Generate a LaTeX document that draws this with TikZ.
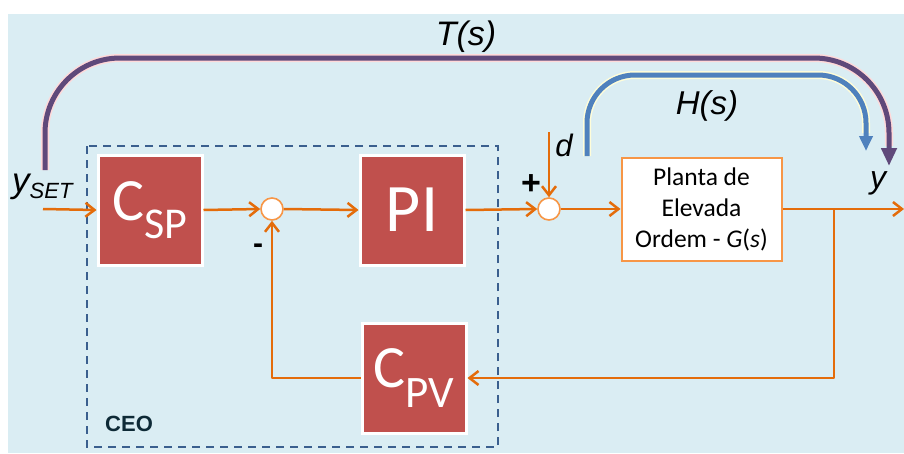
\documentclass[tikz,border=0pt]{standalone}
\usepackage{fontspec}
\setmainfont{Carlito}
\newfontfamily\arialf{Liberation Sans}
\usetikzlibrary{arrows.meta,shadows}
\definecolor{bgblue}{HTML}{DAEDF3}
\definecolor{blockred}{HTML}{C0504D}
\definecolor{lineorange}{HTML}{E46C0A}
\definecolor{plantorange}{HTML}{F79646}
\definecolor{tpurple}{HTML}{5F497A}
\definecolor{hblue}{HTML}{4F81BD}
\definecolor{dashblue}{HTML}{3A5F8E}
\definecolor{ceotext}{HTML}{0E2A36}
\tikzset{
  redblock/.style={rectangle, fill=blockred, draw=white, line width=3pt,
    minimum width=104pt, minimum height=110pt, inner sep=0pt, text=white,
    drop shadow={shadow xshift=1.5pt, shadow yshift=-1.5pt, opacity=0.35, fill=gray}},
  sumnode/.style={circle, fill=white, draw=plantorange, line width=1.6pt,
    minimum size=22pt, inner sep=0pt},
  plantbox/.style={rectangle, fill=white, draw=plantorange, line width=2pt,
    minimum width=160pt, minimum height=103pt, align=center, inner sep=2pt,
    font=\fontsize{25.5}{31}\selectfont},
  conn/.style={draw=lineorange, line width=2.5pt,
    -{Straight Barb[length=9pt,width=14pt,line width=2.5pt]}},
  plainline/.style={draw=lineorange, line width=2.5pt, line join=round},
  lbl/.style={inner sep=0pt, font=\arialf\itshape},
}
\begin{document}
\begin{tikzpicture}[x=1pt,y=-1pt]
\useasboundingbox (0,0) rectangle (904,453);
\fill[bgblue] (8,14) rectangle (904,453);
% dashed CEO frame
\draw[dashblue, line width=1.8pt, dash pattern=on 8pt off 6pt] (87,146) rectangle (498,447);
\node[inner sep=0pt, anchor=base west, font=\arialf\bfseries\fontsize{22}{22}\selectfont, text=ceotext] (ceo) at (105,431) {CEO};
% blocks
\node[redblock] (csp) at (150,210) {\fontsize{60}{60}\selectfont C\raisebox{-0.3em}{\fontsize{44}{44}\selectfont SP}};
\node[redblock] (pi) at (412,210) {\fontsize{68}{68}\selectfont PI};
\node[redblock] (cpv) at (414,378) {\fontsize{60}{60}\selectfont C\raisebox{-0.33em}{\fontsize{45}{45}\selectfont PV}};
\node[plantbox] (plant) at (701.5,209) {Planta de\\Elevada\\Ordem - \textit{G}(\textit{s})};
\node[sumnode] (sum1) at (272,209) {};
\node[sumnode] (sum2) at (549,209) {};
% free ends
\coordinate (yin) at (43,209);
\coordinate (yout) at (904,209);
\coordinate (br) at (834,209);
\coordinate (dtop) at (549,132);
% connectors
\draw[conn] (yin) -- (csp.west);
\draw[conn] (csp.east) -- (sum1.west);
\draw[conn] (sum1.east) -- (pi.west);
\draw[conn] (pi.east) -- (sum2.west);
\draw[conn] (sum2.east) -- (plant.west);
\draw[conn] (plant.east) -- (yout);
\draw[conn] (dtop) -- (sum2.north);
\draw[plainline] (br) -- (br |- cpv.east) -- ([xshift=10pt]cpv.east);
\draw[conn] ([xshift=12pt]cpv.east) -- (cpv.east);
\draw[plainline] (cpv.west) -| ([yshift=-10pt]sum1.south);
\draw[conn] ([yshift=-12pt]sum1.south) -- (sum1.south);
% signs and labels
\node[inner sep=0pt, font=\arialf\bfseries\fontsize{34}{34}\selectfont] (plus) at (531,185) {+};
\node[inner sep=0pt, font=\arialf\bfseries\fontsize{30}{30}\selectfont] (minus) at (258,249) {-};
\node[lbl, font=\arialf\itshape\fontsize{31}{31}\selectfont] (dlbl) at (564,145) {d};
\node[lbl, font=\arialf\itshape\fontsize{32}{32}\selectfont] (ylbl) at (878,183) {y};
\node[lbl, anchor=base west, font=\arialf\itshape\fontsize{35}{35}\selectfont] (yset) at (12,192) {y\raisebox{-0.18em}{\fontsize{22}{22}\selectfont SET}};
% transfer arcs
\coordinate (ts) at (45,170);
\coordinate (te) at (889,166);
\coordinate (hs) at (587,156);
\coordinate (he) at (866,151);
\draw[line width=8pt, draw=red!15!white, rounded corners=75pt] (ts) -- (45,58) -- (889,58) -- ([yshift=20pt]te);
\draw[line width=5pt, draw=tpurple, rounded corners=75pt, -{Triangle[length=18pt,width=15pt]}] (ts) -- (45,58) -- (889,58) -- (te);
\draw[line width=8pt, draw=yellow!15!white, rounded corners=48pt] (hs) -- (587,75) -- (866,75) -- ([yshift=18pt]he);
\draw[line width=5pt, draw=hblue, rounded corners=48pt, -{Triangle[length=15pt,width=13pt]}] (hs) -- (587,75) -- (866,75) -- (he);
\node[lbl, font=\arialf\itshape\fontsize{34}{34}\selectfont] (tlbl) at (466,37) {T(s)};
\node[lbl, font=\arialf\itshape\fontsize{33}{33}\selectfont] (hlbl) at (707,106) {H(s)};
\end{tikzpicture}
\end{document}
